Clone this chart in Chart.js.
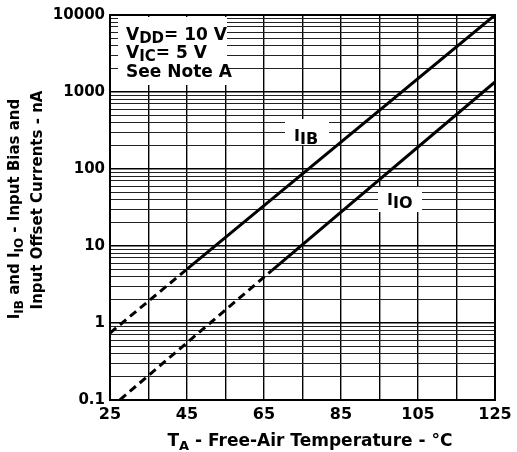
<!DOCTYPE html>
<html><head><meta charset="utf-8">
<script src="https://cdn.jsdelivr.net/npm/chart.js@4.4.0/dist/chart.umd.min.js"></script>
<style>html,body{margin:0;padding:0;background:#fff;} #wrap{width:517px;height:452px;position:relative;}</style>
</head><body><div id="wrap"><canvas id="c" width="517" height="452"></canvas></div>
<script>
// ---- data ----
const iibTemps = [25, 45, 125];
const iibValues = [0.74, 5.0, 10000];
const iioTemps = [25, 67, 125];
const iioValues = [0.078, 4.8, 1350];
const xGrid = [25, 35, 45, 55, 65, 75, 85, 95, 105, 115, 125];
const xTickLabels = [25, 45, 65, 85, 105, 125];
const yDecades = [0.1, 1, 10, 100, 1000, 10000];
const yTickLabels = ['0.1', '1', '10', '100', '1000', '10000'];
const yMinorFactors = [2, 3, 4, 5, 6, 7, 8, 9];

const yGrid = [];
yDecades.forEach((d, i) => {
  yGrid.push(d);
  if (i < yDecades.length - 1) yMinorFactors.forEach(f => yGrid.push(d * f));
});

const SANS = '"DejaVu Sans", sans-serif';
function setFont(ctx, size) { ctx.font = 'bold ' + size + 'px ' + SANS; }
function richWidth(ctx, parts, size, subSize) {
  let w = 0;
  for (const p of parts) { setFont(ctx, p.sub ? subSize : size); w += ctx.measureText(p.t).width; }
  return w;
}
function drawRich(ctx, parts, x, y, size, subSize, subDy, align) {
  const w = richWidth(ctx, parts, size, subSize);
  let cx = align === 'center' ? x - w / 2 : x;
  ctx.textAlign = 'left';
  ctx.textBaseline = 'alphabetic';
  ctx.fillStyle = '#000';
  for (const p of parts) {
    setFont(ctx, p.sub ? subSize : size);
    ctx.fillText(p.t, cx, y + (p.sub ? subDy : 0));
    cx += ctx.measureText(p.t).width;
  }
}

const annot = {
  id: 'annot',
  beforeDatasetsDraw(chart) {
    const ctx = chart.ctx;
    ctx.save();
    ctx.fillStyle = '#fff';
    ctx.fillRect(118, 17, 109, 68);   // note box
    ctx.fillRect(285, 119, 44, 26);   // IIB label box
    ctx.fillRect(378, 187, 44, 25);   // IIO label box
    // note text
    drawRich(ctx, [{t: 'V'}, {t: 'DD', sub: true}, {t: '= 10 V'}], 126, 40, 17, 15, 3, 'left');
    drawRich(ctx, [{t: 'V'}, {t: 'IC', sub: true}, {t: '= 5 V'}], 126, 58, 17, 15, 3, 'left');
    drawRich(ctx, [{t: 'See Note A'}], 126, 77, 17, 15, 3, 'left');
    // curve labels
    drawRich(ctx, [{t: 'I'}, {t: 'IB', sub: true}], 294, 141, 16, 16, 3, 'left');
    drawRich(ctx, [{t: 'I'}, {t: 'IO', sub: true}], 387, 205, 16, 16, 3, 'left');
    ctx.restore();
  },
  afterDraw(chart) {
    const ctx = chart.ctx;
    const a = chart.chartArea;
    ctx.save();
    ctx.strokeStyle = '#000';
    ctx.lineWidth = 2;
    ctx.strokeRect(a.left, a.top, a.right - a.left, a.bottom - a.top);
    // x axis title
    drawRich(ctx, [{t: 'T'}, {t: 'A', sub: true}, {t: ' - Free-Air Temperature - °C'}], 310, 446, 17, 13, 4, 'center');
    // y axis title (rotated)
    ctx.save();
    ctx.translate(19, 209);
    ctx.rotate(-Math.PI / 2);
    drawRich(ctx, [{t: 'I'}, {t: 'IB', sub: true}, {t: ' and I'}, {t: 'IO', sub: true}, {t: ' - Input Bias and'}], 0, 0, 15, 12, 4, 'center');
    ctx.restore();
    ctx.save();
    ctx.translate(42, 200);
    ctx.rotate(-Math.PI / 2);
    drawRich(ctx, [{t: 'Input Offset Currents - nA'}], 0, 0, 15, 12, 4, 'center');
    ctx.restore();
    ctx.restore();
  }
};

const dashFirst = c => (c.p0DataIndex === 0 ? [8, 5] : []);

new Chart(document.getElementById('c'), {
  type: 'line',
  data: {
    datasets: [
      {
        label: 'IIB',
        data: iibTemps.map((t, i) => ({x: t, y: iibValues[i]})),
        borderColor: '#000', borderWidth: 3, pointRadius: 0, fill: false, tension: 0, clip: 0,
        segment: {borderDash: dashFirst}
      },
      {
        label: 'IIO',
        data: iioTemps.map((t, i) => ({x: t, y: iioValues[i]})),
        borderColor: '#000', borderWidth: 3, pointRadius: 0, fill: false, tension: 0, clip: 0,
        segment: {borderDash: dashFirst}
      }
    ]
  },
  options: {
    responsive: false,
    animation: false,
    events: [],
    layout: {padding: {top: 15, right: 22, left: 0, bottom: 0}},
    plugins: {legend: {display: false}, tooltip: {enabled: false}},
    scales: {
      x: {
        type: 'linear', min: 25, max: 125,
        afterBuildTicks: s => { s.ticks = xGrid.map(v => ({value: v})); },
        afterFit: s => { s.height = 52; },
        ticks: {
          autoSkip: false, maxRotation: 0, padding: 5, color: '#000',
          font: {family: 'DejaVu Sans', weight: 'bold', size: 16},
          callback: v => (xTickLabels.includes(v) ? String(v) : '')
        },
        grid: {color: '#000', lineWidth: 1.4, drawTicks: false},
        border: {color: '#000', width: 2}
      },
      y: {
        type: 'logarithmic', min: 0.1, max: 10000,
        afterBuildTicks: s => { s.ticks = yGrid.map(v => ({value: v})); },
        afterFit: s => { s.width = 110; },
        ticks: {
          autoSkip: false, padding: 5, color: '#000',
          font: {family: 'DejaVu Sans', weight: 'bold', size: 15},
          callback: v => {
            const i = yDecades.findIndex(d => Math.abs(d - v) / d < 1e-6);
            return i >= 0 ? yTickLabels[i] : '';
          }
        },
        grid: {
          color: c => (yDecades.some(d => Math.abs(d - c.tick.value) / d < 1e-6) ? '#000' : '#222'),
          lineWidth: c => (yDecades.some(d => Math.abs(d - c.tick.value) / d < 1e-6) ? 1.6 : 1),
          drawTicks: false
        },
        border: {color: '#000', width: 2}
      }
    }
  },
  plugins: [annot]
});
</script>
</body></html>
